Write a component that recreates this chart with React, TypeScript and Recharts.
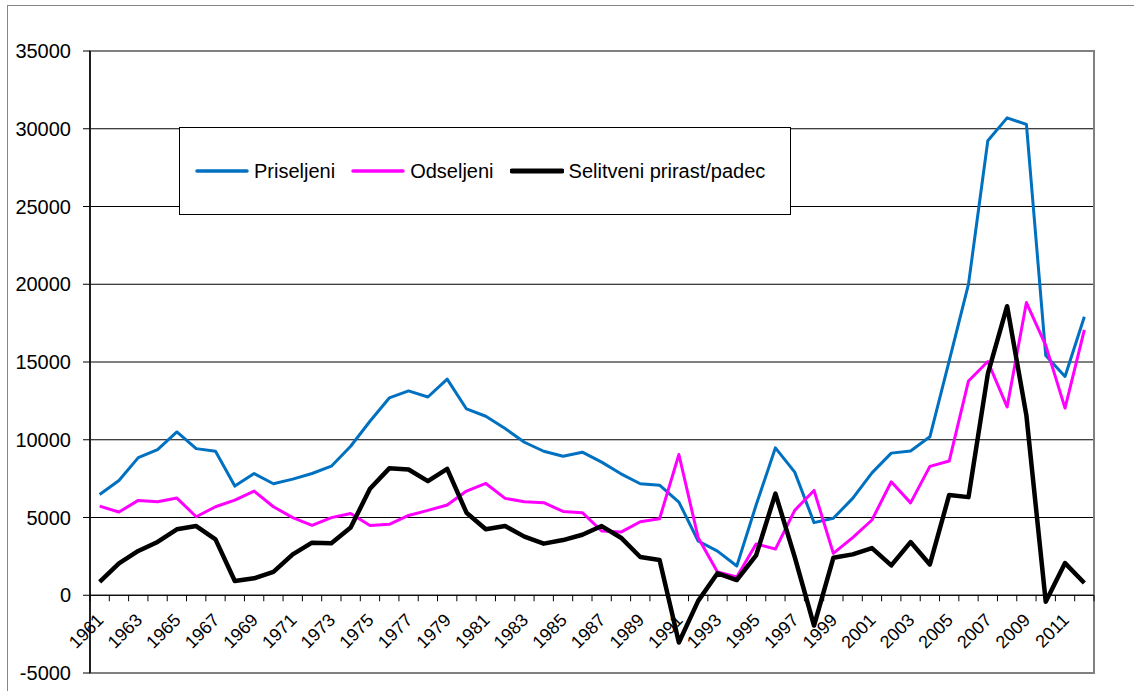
import { LineChart, Line, XAxis, YAxis, CartesianGrid, Legend, ReferenceLine, ReferenceArea } from 'recharts'

const years = [
  1961, 1962, 1963, 1964, 1965, 1966, 1967, 1968, 1969, 1970,
  1971, 1972, 1973, 1974, 1975, 1976, 1977, 1978, 1979, 1980,
  1981, 1982, 1983, 1984, 1985, 1986, 1987, 1988, 1989, 1990,
  1991, 1992, 1993, 1994, 1995, 1996, 1997, 1998, 1999, 2000,
  2001, 2002, 2003, 2004, 2005, 2006, 2007, 2008, 2009, 2010,
  2011, 2012,
]

const priseljeni = [
  6480, 7380, 8850, 9370, 10500, 9430, 9260, 7020, 7830, 7170,
  7470, 7830, 8300, 9580, 11190, 12690, 13140, 12750, 13900, 11980,
  11510, 10720, 9840, 9260, 8940, 9200, 8560, 7810, 7170, 7080,
  5990, 3490, 2840, 1880, 5800, 9480, 7920, 4670, 4950, 6230,
  7870, 9140, 9280, 10190, 15080, 20010, 29230, 30700, 30280, 15420,
  14070, 17910,
]

const odseljeni = [
  5730, 5350, 6100, 6010, 6250, 5050, 5690, 6120, 6700, 5690,
  4990, 4490, 4990, 5260, 4490, 4560, 5130, 5460, 5800, 6700,
  7190, 6230, 6010, 5950, 5390, 5310, 4130, 4060, 4730, 4920,
  9050, 3700, 1500, 1170, 3300, 2970, 5460, 6740, 2690, 3710,
  4840, 7300, 5940, 8290, 8630, 13780, 15030, 12110, 18820, 16070,
  12030, 17060,
]

const prirast = [
  860, 2050, 2850, 3430, 4240, 4450, 3590, 920, 1090, 1500,
  2630, 3380, 3340, 4350, 6850, 8160, 8090, 7340, 8130, 5310,
  4240, 4450, 3770, 3320, 3550, 3890, 4450, 3700, 2460, 2270,
  -3040, -360, 1410, 980, 2560, 6540, 2460, -1950, 2410, 2630,
  3030, 1920, 3420, 1980, 6450, 6310, 14230, 18590, 11550, -420,
  2070, 790,
]

const yTicks = [-5000, 0, 5000, 10000, 15000, 20000, 25000, 30000, 35000]

const seriesOrder = ['priseljeni', 'odseljeni', 'prirast']

const data = years.map((year, i) => ({
  year,
  priseljeni: priseljeni[i],
  odseljeni: odseljeni[i],
  prirast: prirast[i],
}))

const FONT = '"Liberation Sans", Arial, sans-serif'
const W = 1134
const H = 691
const X_AXIS_H = 1
const M = { top: 51, right: 40, bottom: 17, left: 9 }
const Y_AXIS_W = 81
const PLOT_W = W - M.left - M.right - Y_AXIS_W
const PLOT_H = H - M.top - M.bottom - X_AXIS_H
const Y_MIN = -5000
const Y_MAX = 35000
const ZERO_Y = M.top + (PLOT_H * Y_MAX) / (Y_MAX - Y_MIN)
const BAND = PLOT_W / years.length

const widths: Record<string, number> = { priseljeni: 3, odseljeni: 3, prirast: 4.5 }

// category ticks sit on band edges, labels every second year, rotated
function XTick(props: any) {
  const { x, index, payload } = props
  const left = x - BAND / 2
  const ax = x + 5
  const ay = ZERO_Y + 26
  return (
    <g>
      <line x1={left} y1={ZERO_Y} x2={left} y2={ZERO_Y + 6} stroke="#000" strokeWidth={1} />
      {index === years.length - 1 && (
        <line x1={x + BAND / 2} y1={ZERO_Y} x2={x + BAND / 2} y2={ZERO_Y + 6} stroke="#000" strokeWidth={1} />
      )}
      {index % 2 === 0 && (
        <text
          x={ax}
          y={ay}
          textAnchor="end"
          transform={`rotate(-45, ${ax}, ${ay})`}
          fontSize={18}
          fontFamily={FONT}
          fill="#000"
        >
          {payload.value}
        </text>
      )}
    </g>
  )
}

function LegendBox(props: any) {
  const { payload } = props
  return (
    <div
      style={{
        display: 'flex',
        alignItems: 'center',
        height: '100%',
        paddingLeft: 15,
        boxSizing: 'border-box',
        fontFamily: FONT,
        fontSize: 20,
        color: '#000',
      }}
    >
      {(payload || []).map((entry: any) => (
        <div key={entry.dataKey} style={{ display: 'flex', alignItems: 'center', marginRight: 16 }}>
          <svg width={54} height={10} style={{ marginRight: 5 }}>
            <line
              x1={2}
              y1={5}
              x2={52}
              y2={5}
              stroke={entry.color}
              strokeWidth={(widths[entry.dataKey] ?? 3) + 0.5}
              strokeLinecap="round"
            />
          </svg>
          <span>{entry.value}</span>
        </div>
      ))}
    </div>
  )
}

export default function App() {
  return (
    <div
      style={{
        position: 'absolute',
        left: 0,
        top: 0,
        width: W,
        height: H,
        overflow: 'hidden',
        background: '#fff',
      }}
    >
      <div
        style={{
          position: 'absolute',
          left: 7,
          top: 5,
          width: 1300,
          height: 900,
          border: '1px solid #868686',
        }}
      />
      <div style={{ position: 'absolute', left: 0, top: 0 }}>
        <LineChart width={W} height={H} data={data} margin={M}>
          <CartesianGrid vertical={false} stroke="#000" strokeWidth={1} />
          <ReferenceArea
            y1={Y_MIN}
            y2={Y_MAX}
            fill="none"
            stroke="#808080"
            strokeWidth={2}
            ifOverflow="visible"
          />
          <ReferenceLine y={0} stroke="#000" strokeWidth={1} />
          <XAxis
            dataKey="year"
            scale="band"
            interval={0}
            axisLine={false}
            tickLine={false}
            height={X_AXIS_H}
            tick={(p: any) => <XTick {...p} />}
          />
          <YAxis
            width={Y_AXIS_W}
            domain={[Y_MIN, Y_MAX]}
            ticks={yTicks}
            interval={0}
            axisLine={{ stroke: '#000', strokeWidth: 1.5 }}
            tickLine={{ stroke: '#000' }}
            tickSize={7}
            tickMargin={12}
            tick={{ fill: '#000', fontSize: 20, fontFamily: FONT }}
          />
          <Legend
            layout="horizontal"
            verticalAlign="middle"
            align="center"
            itemSorter={(item: any) => seriesOrder.indexOf(item.dataKey)}
            content={(p: any) => <LegendBox {...p} />}
            wrapperStyle={{
              left: 179,
              top: 127,
              width: 612,
              height: 88,
              border: '1px solid #000',
              background: '#fff',
              boxSizing: 'border-box',
            }}
          />
          <Line
            type="linear"
            dataKey="priseljeni"
            name="Priseljeni"
            stroke="#0070C0"
            strokeWidth={3}
            strokeLinejoin="round"
            dot={false}
            activeDot={false}
            isAnimationActive={false}
          />
          <Line
            type="linear"
            dataKey="odseljeni"
            name="Odseljeni"
            stroke="#FF00FF"
            strokeWidth={3}
            strokeLinejoin="round"
            dot={false}
            activeDot={false}
            isAnimationActive={false}
          />
          <Line
            type="linear"
            dataKey="prirast"
            name="Selitveni prirast/padec"
            stroke="#000000"
            strokeWidth={4.5}
            strokeLinejoin="round"
            dot={false}
            activeDot={false}
            isAnimationActive={false}
          />
        </LineChart>
      </div>
    </div>
  )
}
